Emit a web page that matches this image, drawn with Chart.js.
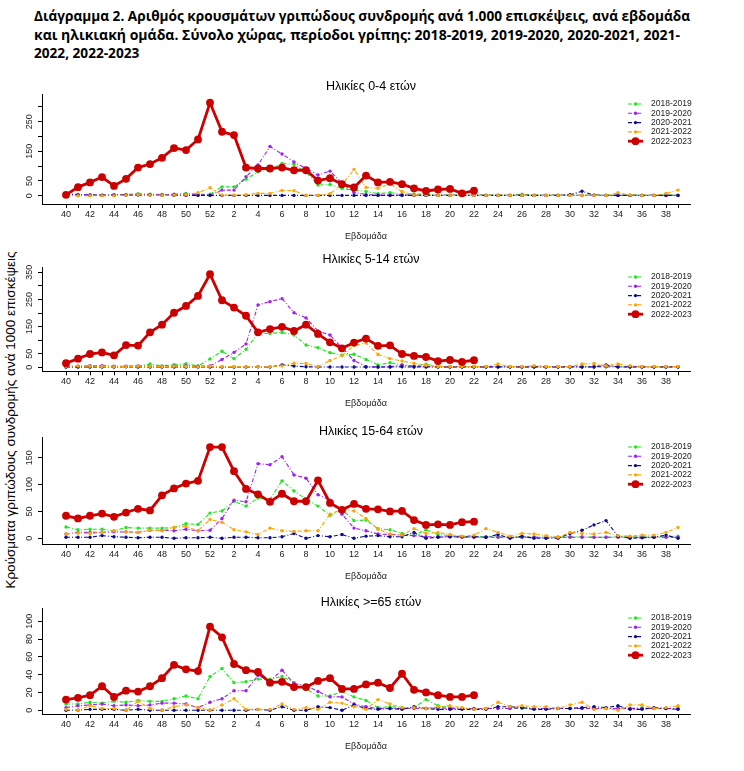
<!DOCTYPE html>
<html><head><meta charset="utf-8">
<script src="https://cdn.jsdelivr.net/npm/chart.js@4/dist/chart.umd.min.js"></script>
<style>
html,body{margin:0;padding:0;background:#fff}
body{width:744px;height:771px;overflow:hidden;position:relative}
.hdr{position:absolute;left:34px;font-family:"Open Sans",sans-serif;font-weight:bold;font-size:14.5px;line-height:20px;white-space:nowrap;transform-origin:0 50%;color:#000}
canvas{position:absolute;left:0}
#ytitle{position:absolute;width:420px;left:-199px;top:411px;height:18px;line-height:18px;text-align:center;font-family:"Liberation Sans",Arial,sans-serif;font-size:13.5px;transform:rotate(-90deg);transform-origin:50% 50%;white-space:nowrap;color:#000}
</style></head>
<body>
<div class="hdr" id="h1" style="top:6px">Διάγραμμα 2. Αριθμός κρουσμάτων γριπώδους συνδρομής ανά 1.000 επισκέψεις, ανά εβδομάδα</div>
<div class="hdr" id="h2" style="top:25px">και ηλικιακή ομάδα. Σύνολο χώρας, περίοδοι γρίπης: 2018-2019, 2019-2020, 2020-2021, 2021-</div>
<div class="hdr" id="h3" style="top:43px">2022, 2022-2023</div>
<div id="ytitle">Κρούσματα γριπώδους συνδρομής ανά 1000 επισκέψεις</div>
<canvas id="c0"></canvas><canvas id="c1"></canvas><canvas id="c2"></canvas><canvas id="c3"></canvas>
<script>
// ---- categories ----
const weeks = [40,41,42,43,44,45,46,47,48,49,50,51,52,1,2,3,4,5,6,7,8,9,10,11,12,13,14,15,16,17,18,19,20,21,22,23,24,25,26,27,28,29,30,31,32,33,34,35,36,37,38,39];
const seasons = ['2018-2019','2019-2020','2020-2021','2021-2022','2022-2023'];
const panelTitles = ['Ηλικίες 0-4 ετών','Ηλικίες 5-14 ετών','Ηλικίες 15-64 ετών','Ηλικίες >=65 ετών'];
const xTitle = 'Εβδομάδα';

// ---- 0-4 ----
const g04 = [3,2,2,2,3,4,7,5,4,4,8,5,5, 30,30,56,81,87,109,106,79,36,38,24,19,14,7, 10,5,6,5,2,2,2,2,2,2,2,5,2,2,2,2,2,2,2,2,2,2,2,2,2];
const p04 = [7,4,3,2,3,3,4,4,3,5,5,3,2, 19,19,64,104,166,141,114,92,70,83,42,11,4,2, 2,2,2,1,1,1,1,1,1,1,1,1,1,1,1,1,1,1,1,1,1,1,1,1,1];
const n04 = [5,2,1,1,1,2,2,2,1,1,1,1,1, 1,1,1,1,1,1,1,1,1,1,1,1,1,1, 1,1,1,1,1,1,1,1,1,1,1,1,1,1,1,3,15,2,1,1,1,1,1,1,1];
const o04 = [1,0,0,0,0,2,3,2,1,2,3,10,27, 2,2,3,8,8,18,17,1,1,7,36,89,28,25, 40,14,2,2,1,1,1,1,1,1,1,1,1,1,1,1,1,1,1,10,2,1,1,8,19];
const r04 = [3,29,45,63,33,57,95,107,128,161,154,190,314, 216,205,95,92,92,95,86,86,51,59,39,28,68,45,47,39,25,16,21,23,8,17];
// ---- 5-14 ----
const g514 = [1,2,2,3,2,3,4,12,5,10,13,5,31, 59,32,66,124,125,128,119,82,72,54,45,48,29,9, 17,9,5,11,3,2,2,2,2,2,2,2,2,2,2,2,2,2,2,2,2,2,2,2,2];
const p514 = [3,4,6,6,4,4,5,4,4,5,6,4,5, 29,55,86,230,242,253,201,182,134,119,72,25,2,1, 2,9,3,3,2,2,2,2,2,2,2,2,2,2,2,3,2,2,2,2,2,2,2,2,2];
const n514 = [1,1,1,1,1,2,1,1,1,1,1,1,1, 1,1,1,2,1,9,5,2,1,1,1,1,1,1, 1,2,1,1,1,1,1,1,1,1,1,1,1,1,1,1,1,1,9,1,1,1,1,1,1];
const o514 = [3,5,4,3,2,3,4,3,3,4,3,2,4, 3,3,2,2,2,5,15,14,2,25,43,80,90,47, 32,23,15,7,3,3,3,3,3,12,3,3,6,3,3,3,12,14,6,12,6,3,3,3,3];
const r514 = [15,32,49,55,44,82,80,129,157,201,226,263,343, 247,220,190,129,141,149,134,157,123,92,70,91,106,79,81,49,42,38,23,27,20,26];
// ---- 15-64 ----
const g1564 = [21,16,17,17,14,20,19,19,19,20,27,26,47, 51,69,60,75,73,107,88,73,60,43,53,33,34,18, 16,9,5,16,7,5,3,3,3,3,3,2,2,2,2,3,3,2,2,3,3,3,3,3,4];
const p1564 = [8,11,11,11,12,12,11,15,15,14,17,14,15, 37,71,68,139,137,152,118,112,81,71,45,19,14,8, 7,6,5,3,3,3,2,2,2,2,2,2,2,2,2,2,2,2,2,2,2,2,2,2,2];
const n1564 = [2,2,2,5,3,2,1,2,2,0,1,1,2, 0,2,2,1,1,3,9,0,5,3,7,0,4,5, 3,3,11,0,2,3,3,3,2,7,0,4,0,0,0,9,15,25,33,4,0,1,2,6,0];
const o1564 = [8,10,9,11,14,12,11,15,14,20,22,14,35, 30,16,12,7,19,14,13,14,14,45,54,51,37,17, 8,6,18,9,11,7,4,6,18,11,4,9,8,5,2,11,9,8,11,5,4,6,6,11,20];
const r1564 = [42,37,42,46,40,48,55,52,80,93,102,107,170, 170,125,92,82,68,83,69,69,108,66,53,64,55,54,50,51,34,25,26,25,30,31];
// ---- >=65 ----
const g65 = [7,7,9,8,10,9,11,10,10,13,16,13,38, 47,31,32,35,35,38,31,24,16,16,21,15,11,3, 4,3,3,12,5,3,2,2,2,2,2,2,2,2,2,2,2,2,2,2,2,3,2,2,2];
const p65 = [3,5,6,7,5,6,5,6,8,8,7,3,9, 13,22,22,39,33,45,30,28,21,15,15,7,4,2, 2,2,2,2,3,2,2,2,2,2,2,3,2,2,2,2,2,2,2,2,2,2,2,2,2];
const n65 = [0,0,1,1,1,0,1,0,0,0,0,0,0, 0,0,0,1,0,4,0,0,4,3,0,6,2,1, 2,1,4,2,1,1,1,1,1,4,4,3,1,1,2,2,3,4,3,5,1,1,3,2,1];
const o65 = [1,0,5,2,2,0,10,2,0,4,6,3,0, 6,13,1,1,1,7,1,3,1,9,8,4,1,12, 7,3,3,2,4,5,3,1,2,9,4,5,4,4,2,6,9,1,2,0,6,6,2,3,5];
const r65 = [12,14,17,27,15,22,21,27,36,51,46,44,94, 82,52,45,43,31,32,26,26,33,36,24,24,29,31,25,41,23,20,17,15,15,17];

// ---- y-axis ticks ----
const yTicks04 = [0,50,100,150,200,250,300], yLab04 = [0,50,150,250];
const yTicks514 = [0,50,100,150,200,250,300,350], yLab514 = [0,50,150,250,350];
const yTicks1564 = [0,50,100,150], yLab1564 = [0,50,100,150];
const yTicks65 = [0,20,40,60,80,100], yLab65 = [0,20,40,60,80,100];

const panelSeries = [[g04,p04,n04,o04,r04],[g514,p514,n514,o514,r514],[g1564,p1564,n1564,o1564,r1564],[g65,p65,n65,o65,r65]];
const panelYTicks = [yTicks04,yTicks514,yTicks1564,yTicks65];
const panelYLabels = [yLab04,yLab514,yLab1564,yLab65];

// ---- styles / layout (not data) ----
const seriesStyle = [
  {color:'#1EE61E', width:1.1, radius:1.7, dash:[4,2,1,2]},
  {color:'#A020F0', width:1.1, radius:1.7, dash:[4,2,1,2]},
  {color:'#0A0A8C', width:1.1, radius:1.7, dash:[4,2,1,2]},
  {color:'#FFA500', width:1.1, radius:1.7, dash:[4,2,1,2]},
  {color:'#CD0000', width:2.8, radius:3.9, dash:[]}
];
// canvas top, canvas height, plot top, x-axis y, y min, y max, title y
const geo = [
  {ct:70,  ch:180, top:94,  bot:204,   ymin:-28,   ymax:343.6, ty:87},
  {ct:243, ch:175, top:267, bot:371.3, ymin:-14.7, ymax:369.6, ty:260},
  {ct:418, ch:173, top:437, bot:544,   ymin:-10.6, ymax:188.7, ty:432},
  {ct:591, ch:180, top:608, bot:714,   ymin:-4.2,  ymax:114.9, ty:603}
];
const PLOT_L = 42, PLOT_R = 690, Y_W = 10, X_H = 38;
const TXT = '"Liberation Sans", Arial, sans-serif';

// header fitting
(function(){
  const h1=document.getElementById('h1'),h2=document.getElementById('h2'),h3=document.getElementById('h3');
  const s1 = 656 / h1.getBoundingClientRect().width;
  const s2 = 646 / h2.getBoundingClientRect().width;
  h1.style.transform='scaleX('+s1+')'; h3.style.transform='scaleX('+s1+')'; h2.style.transform='scaleX('+s2+')';
})();

const decor = {
  id:'decor',
  afterDraw(chart, args, opts){
    const ctx = chart.ctx, g = opts.g, p = opts.p;
    ctx.save();
    // title
    ctx.fillStyle='#000'; ctx.font='12.5px '+TXT; ctx.textAlign='center'; ctx.textBaseline='middle';
    ctx.fillText(panelTitles[p], 371, g.ty - g.ct);
    // y labels rotated
    const ys = chart.scales.y;
    ctx.font='9px '+TXT; ctx.fillStyle='#222';
    panelYLabels[p].forEach(v=>{
      const y = ys.getPixelForValue(v);
      ctx.save(); ctx.translate(30, y); ctx.rotate(-Math.PI/2);
      ctx.textAlign='center'; ctx.textBaseline='middle'; ctx.fillText(String(v),0,0); ctx.restore();
    });
    // legend
    const y0 = g.top - g.ct + 10;
    chart.data.datasets.forEach((ds,k)=>{
      const st = seriesStyle[k]; const y = y0 + k*9.3;
      ctx.strokeStyle=st.color; ctx.lineWidth=st.width; ctx.setLineDash(st.dash);
      ctx.beginPath(); ctx.moveTo(628,y); ctx.lineTo(643,y); ctx.stroke(); ctx.setLineDash([]);
      ctx.fillStyle=st.color; ctx.beginPath(); ctx.arc(635.5,y,st.radius,0,Math.PI*2); ctx.fill();
      ctx.fillStyle='#222'; ctx.font='8.5px '+TXT; ctx.textAlign='left'; ctx.textBaseline='middle';
      ctx.fillText(ds.label, 651, y);
    });
    ctx.restore();
  }
};

panelSeries.forEach((series,p)=>{
  const g = geo[p];
  const cv = document.getElementById('c'+p);
  cv.width=744; cv.height=g.ch; cv.style.top=g.ct+'px'; cv.style.width='744px'; cv.style.height=g.ch+'px';
  const padTop = g.top - g.ct;
  const padBottom = g.ch - (g.bot - g.ct) - X_H;
  const datasets = series.map((arr,k)=>{
    const st = seriesStyle[k];
    return {
      label: seasons[k],
      data: arr.map((v,i)=>({x:i,y:v})),
      borderColor: st.color, backgroundColor: st.color,
      borderWidth: st.width, borderDash: st.dash,
      pointRadius: st.radius, pointBorderWidth: 0, pointBackgroundColor: st.color,
      tension: 0, fill: false, order: k===4 ? 0 : 5-k
    };
  });
  new Chart(cv, {
    type:'line',
    data:{datasets},
    options:{
      responsive:false, animation:false, devicePixelRatio:1,
      layout:{padding:{top:padTop, left:PLOT_L - Y_W, right:744-PLOT_R, bottom:padBottom}},
      plugins:{legend:{display:false}, tooltip:{enabled:false}, title:{display:false}, decor:{g:g,p:p}},
      scales:{
        x:{type:'linear', min:-2, max:52,
           afterBuildTicks:s=>{ s.ticks = weeks.map((w,i)=>({value:i})); },
           afterFit:s=>{ s.height = X_H; },
           grid:{display:true, drawOnChartArea:false, drawTicks:true, tickLength:4, color:'#000', lineWidth:1},
           border:{display:true, color:'#000', width:1},
           ticks:{autoSkip:false, maxRotation:0, minRotation:0, padding:1, color:'#222', font:{family:TXT, size:9},
                  callback:(v)=> (v%2===0 ? String(weeks[v]) : '')},
           title:{display:true, text:xTitle, color:'#222', font:{family:TXT, size:9}, padding:0}
        },
        y:{type:'linear', min:g.ymin, max:g.ymax,
           afterBuildTicks:s=>{ s.ticks = panelYTicks[p].map(v=>({value:v})); },
           afterFit:s=>{ s.width = Y_W; },
           grid:{display:true, drawOnChartArea:false, drawTicks:true, tickLength:4, color:'#000', lineWidth:1},
           border:{display:true, color:'#000', width:1},
           ticks:{display:false}
        }
      }
    },
    plugins:[decor]
  });
});
</script>
</body></html>
